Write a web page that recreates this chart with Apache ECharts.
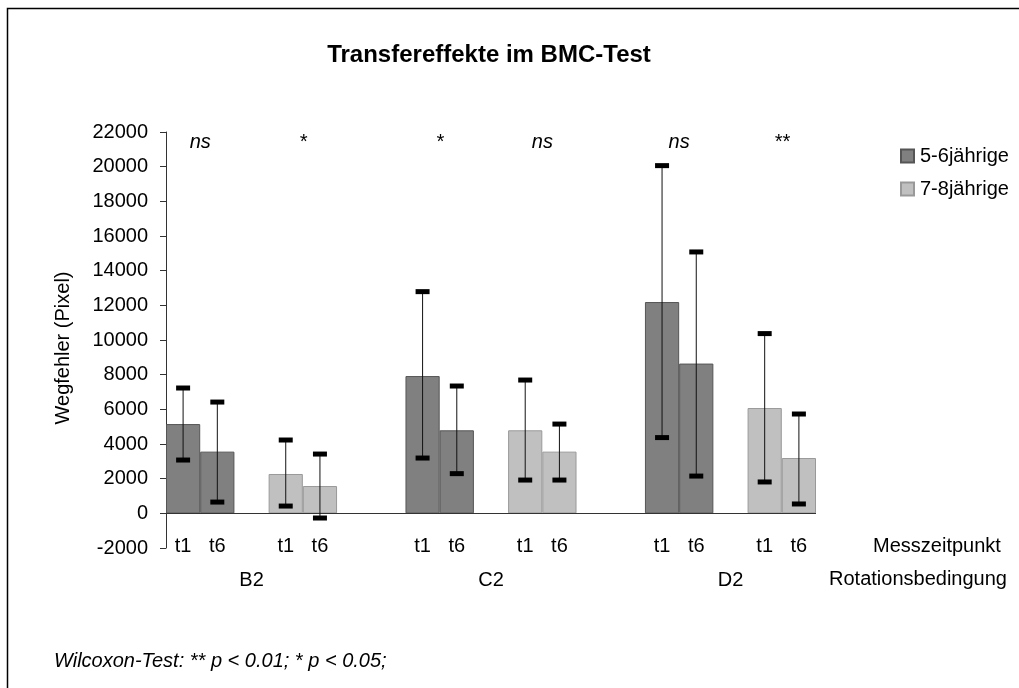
<!DOCTYPE html>
<html>
<head>
<meta charset="utf-8">
<script src="https://cdn.jsdelivr.net/npm/echarts@6/dist/echarts.min.js"></script>
<style>
html,body{margin:0;padding:0;background:#fff;}
#chart{width:1019px;height:688px;}
</style>
</head>
<body>
<div id="chart"></div>
<script>
// ---- data ----
const categories = ['t1','t6','','t1','t6','','','t1','t6','','t1','t6','','','t1','t6','','t1','t6'];
const groupLabels = ['','','B2','','','','','','','C2','','','','','','','D2','',''];
const seriesNames = ['5-6jährige','7-8jährige'];
const means56 = [5150,3560,null,null,null,null,null,7920,4790,null,null,null,null,null,12190,8640,null,null,null];
const upper56 = [7230,6420,null,null,null,null,null,12790,7345,null,null,null,null,null,20060,15080,null,null,null];
const lower56 = [3075,650,null,null,null,null,null,3190,2290,null,null,null,null,null,4370,2150,null,null,null];
const means78 = [null,null,null,2270,1575,null,null,null,null,null,4790,3560,null,null,null,null,null,6075,3190];
const upper78 = [null,null,null,4230,3420,null,null,null,null,null,7690,5150,null,null,null,null,null,10370,5730];
const lower78 = [null,null,null,420,-270,null,null,null,null,null,1920,1920,null,null,null,null,null,1810,540];
// significance marks: [first slot of pair, label]
const sigSlots = [0,3,7,10,14,17];
const sigLabels = ['ns','*','*','ns','ns','**'];
const sigLevel = 21400;
const yTicks = {min:-2000, max:22000, interval:2000};

const FONT = 'Liberation Sans, Arial, sans-serif';

function errData(up, lo){
  const out = [];
  up.forEach((u,i)=>{ if(u!==null) out.push([i, lo[i], u]); });
  return out;
}
const errAll = errData(upper56, lower56).concat(errData(upper78, lower78));
const sigData = sigSlots.map((s,i)=>[s, sigLevel, sigLabels[i]]);

const chart = echarts.init(document.getElementById('chart'), null, {renderer:'canvas'});
chart.setOption({
  animation:false,
  backgroundColor:'#fff',
  grid:{left:166, right:203, top:132, bottom:140, containLabel:false},
  legend:{
    orient:'vertical', left:895, top:141, itemWidth:13, itemHeight:13, itemGap:13,
    icon:'rect',
    textStyle:{fontFamily:FONT, fontSize:20, color:'#000', lineHeight:20, padding:[0,0,0,1]},
    data:seriesNames
  },
  xAxis:[{
    type:'category', data:categories, position:'bottom',
    axisLine:{show:false, onZero:false},
    axisTick:{show:false},
    axisLabel:{interval:0, margin:-12, fontFamily:FONT, fontSize:20, color:'#000'},
    splitLine:{show:false}
  },{
    type:'category', data:groupLabels, position:'bottom',
    axisLine:{show:false, onZero:false}, axisTick:{show:false},
    axisLabel:{interval:0, margin:22, fontFamily:FONT, fontSize:20, color:'#000'},
    splitLine:{show:false}
  }],
  yAxis:{
    type:'value', min:yTicks.min, max:yTicks.max, interval:yTicks.interval,
    axisLine:{show:true, lineStyle:{color:'#333', width:1}},
    axisTick:{show:true, inside:false, length:6, lineStyle:{color:'#333'}},
    axisLabel:{margin:18, fontFamily:FONT, fontSize:20, color:'#000', formatter:function(v){return String(v);}},
    splitLine:{show:false}
  },
  series:[{
    name:seriesNames[0], type:'bar', data:means56, barWidth:'100%', barGap:'-100%',
    itemStyle:{color:'#808080', borderColor:'#555', borderWidth:1},
    markLine:{silent:true, symbol:['none','none'], label:{show:false},
      lineStyle:{color:'#333', width:1, type:'solid'}, data:[{yAxis:0}]}
  },{
    name:seriesNames[1], type:'bar', data:means78, barWidth:'100%', barGap:'-100%',
    itemStyle:{color:'#c0c0c0', borderColor:'#999', borderWidth:1}
  },{
    type:'custom', name:'err', data:errAll, z:10,
    encode:{x:0, y:[1,2]},
    renderItem:function(params, api){
      const x = api.value(0);
      const lo = api.coord([x, api.value(1)]);
      const hi = api.coord([x, api.value(2)]);
      const cw = 14, ch = 5;
      return {type:'group', children:[
        {type:'line', shape:{x1:lo[0], y1:lo[1], x2:hi[0], y2:hi[1]}, style:{stroke:'#111', lineWidth:1}},
        {type:'rect', shape:{x:lo[0]-cw/2, y:lo[1]-ch/2, width:cw, height:ch}, style:{fill:'#000'}},
        {type:'rect', shape:{x:hi[0]-cw/2, y:hi[1]-ch/2, width:cw, height:ch}, style:{fill:'#000'}}
      ]};
    }
  },{
    type:'custom', name:'sig', data:sigData, z:10,
    encode:{x:0, y:1},
    renderItem:function(params, api){
      const s = api.value(0);
      const a = api.coord([s, api.value(1)]);
      const b = api.coord([s+1, api.value(1)]);
      return {type:'text', x:(a[0]+b[0])/2, y:a[1], style:{
        text:sigData[params.dataIndex][2], align:'center', verticalAlign:'middle',
        font:'italic 20px ' + FONT, fill:'#000'}};
    }
  }],
  graphic:[
    {type:'rect', shape:{x:7.5, y:8.5, width:1100, height:1000}, style:{fill:'none', stroke:'#000', lineWidth:1.5}, silent:true},
    {type:'text', x:489, y:55, style:{text:'Transfereffekte im BMC-Test', font:'bold 24px ' + FONT, fill:'#000', align:'center', verticalAlign:'middle'}},
    {type:'text', x:63, y:348, rotation:Math.PI/2, style:{text:'Wegfehler (Pixel)', font:'20px ' + FONT, fill:'#000', align:'center', verticalAlign:'middle'}},
    {type:'text', x:937, y:546, style:{text:'Messzeitpunkt', font:'20px ' + FONT, fill:'#000', align:'center', verticalAlign:'middle'}},
    {type:'text', x:918, y:579, style:{text:'Rotationsbedingung', font:'20px ' + FONT, fill:'#000', align:'center', verticalAlign:'middle'}},
    {type:'text', x:54, y:661, style:{text:'Wilcoxon-Test: ** p < 0.01; * p < 0.05;', font:'italic 20px ' + FONT, fill:'#000', align:'left', verticalAlign:'middle'}}
  ]
});
</script>
</body>
</html>
